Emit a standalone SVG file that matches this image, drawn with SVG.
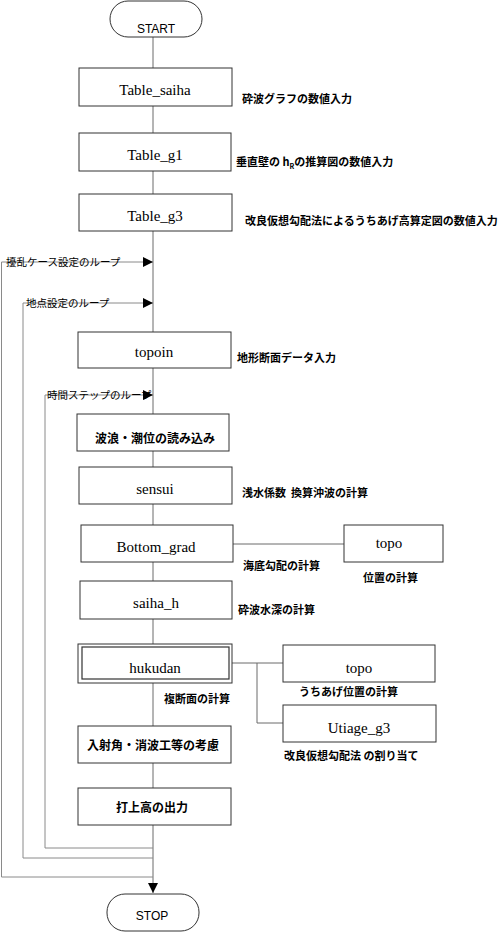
<svg xmlns="http://www.w3.org/2000/svg" width="500" height="932" viewBox="0 0 500 932">
<style>
.box{fill:#fff;stroke:#333;stroke-width:1}
.term{fill:#fff;stroke:#333;stroke-width:1}
.ser{font-family:"Liberation Serif","DejaVu Serif",serif;font-size:15px;fill:#000;text-anchor:middle}
.san{font-family:"Liberation Sans",Arial,sans-serif;font-size:12px;fill:#000;text-anchor:middle}
.lbl{font-family:"Noto Sans CJK JP","Noto Sans",sans-serif;font-size:11px;font-weight:bold;fill:#000}
.jb{font-family:"Noto Sans CJK JP","Noto Sans",sans-serif;font-size:12px;font-weight:bold;fill:#000;text-anchor:middle}
.lp{font-family:"Noto Sans CJK JP","Noto Sans",sans-serif;font-size:10.5px;fill:#000}
.cn{fill:none;stroke:#6a6a6a;stroke-width:1}
.lpl{fill:none;stroke:#8a8a8a;stroke-width:1}
</style>
<defs>
<marker id="ah" markerUnits="userSpaceOnUse" markerWidth="11" markerHeight="10" refX="10" refY="5" orient="auto">
<path d="M0,0 L10,5 L0,10 Z" fill="#000"/>
</marker>
</defs>
<g id="connectors">
<path class="cn" d="M153,37 V68 M153,106 V133 M153,171 V194 M153,231 V332 M153,368 V414 M153,451 V467 M153,504 V525 M153,562 V581 M153,619 V644 M153,683 V726 M153,763 V788"/>
<line class="cn" x1="153" y1="825" x2="153" y2="893" marker-end="url(#ah)"/>
<line class="cn" x1="233" y1="544" x2="344" y2="544"/>
<path class="cn" d="M232,663 H283 M257,663 V723 H283"/>
<path class="lpl" d="M153,877 H1.5 V262"/>
<line class="lpl" x1="1.5" y1="262" x2="153" y2="262" marker-end="url(#ah)"/>
<path class="lpl" d="M153,858 H23 V303"/>
<line class="lpl" x1="23" y1="303" x2="153" y2="303" marker-end="url(#ah)"/>
<path class="lpl" d="M153,848 H45 V395"/>
<line class="lpl" x1="45" y1="395" x2="153" y2="395" marker-end="url(#ah)"/>
</g>
<g id="loop-labels">
<text class="lp" x="6" y="266">擾乱ケース設定のループ</text>
<text class="lp" x="26" y="307">地点設定のループ</text>
<text class="lp" x="47" y="399">時間ステップのループ</text>
</g>
<g id="start">
<rect class="term" x="110" y="1" width="92" height="36" rx="18" ry="18"/>
<text class="san" x="156" y="33">START</text>
</g>
<g id="table_saiha">
<rect class="box" x="79" y="68" width="153" height="38"/>
<text class="ser" x="155" y="95">Table_saiha</text>
<text class="lbl" x="242" y="103">砕波グラフの数値入力</text>
</g>
<g id="table_g1">
<rect class="box" x="79" y="133" width="152" height="38"/>
<text class="ser" x="155" y="160">Table_g1</text>
<text class="lbl" x="236" y="166">垂直壁の h<tspan font-size="7" dy="3">R</tspan><tspan dy="-3">の推算図の数値入力</tspan></text>
</g>
<g id="table_g3">
<rect class="box" x="79" y="194" width="153" height="37"/>
<text class="ser" x="155" y="221">Table_g3</text>
<text class="lbl" x="245" y="225">改良仮想勾配法によるうちあげ高算定図の数値入力</text>
</g>
<g id="topoin">
<rect class="box" x="78" y="332" width="153" height="36"/>
<text class="ser" x="154" y="357">topoin</text>
<text class="lbl" x="237" y="362">地形断面データ入力</text>
</g>
<g id="read-wave">
<rect class="box" x="77" y="414" width="152" height="37"/>
<text class="jb" x="155" y="443">波浪・潮位の読み込み</text>
</g>
<g id="sensui">
<rect class="box" x="79" y="467" width="153" height="37"/>
<text class="ser" x="155" y="494">sensui</text>
<text class="lbl" x="242" y="497" xml:space="preserve" style="white-space:pre">浅水係数  換算沖波の計算</text>
</g>
<g id="bottom_grad">
<rect class="box" x="81" y="525" width="152" height="37"/>
<text class="ser" x="156" y="552">Bottom_grad</text>
<text class="lbl" x="243" y="570">海底勾配の計算</text>
</g>
<g id="topo1">
<rect class="box" x="344" y="525" width="99" height="37"/>
<text class="ser" x="389" y="548">topo</text>
<text class="lbl" x="363" y="582">位置の計算</text>
</g>
<g id="saiha_h">
<rect class="box" x="80" y="581" width="152" height="38"/>
<text class="ser" x="156" y="608">saiha_h</text>
<text class="lbl" x="238" y="614">砕波水深の計算</text>
</g>
<g id="hukudan">
<rect class="box" x="78" y="644" width="154" height="39" stroke-width="1.2"/>
<rect fill="none" stroke="#333" stroke-width="1.2" x="82" y="647" width="147" height="32"/>
<text class="ser" x="155" y="673">hukudan</text>
<text class="lbl" x="164" y="703">複断面の計算</text>
</g>
<g id="topo2">
<rect class="box" x="283" y="645" width="152" height="37"/>
<text class="ser" x="359" y="673">topo</text>
<text class="lbl" x="299" y="696">うちあげ位置の計算</text>
</g>
<g id="utiage_g3">
<rect class="box" x="283" y="705" width="153" height="37"/>
<text class="ser" x="359" y="733">Utiage_g3</text>
<text class="lbl" x="284" y="760">改良仮想勾配法 の割り当て</text>
</g>
<g id="incident">
<rect class="box" x="78" y="726" width="153" height="37"/>
<text class="jb" x="153" y="750">入射角・消波工等の考慮</text>
</g>
<g id="output">
<rect class="box" x="78" y="788" width="153" height="37"/>
<text class="jb" x="152" y="812" font-size="13">打上高の出力</text>
</g>
<g id="stop">
<rect class="term" x="107" y="894" width="92" height="37" rx="18" ry="18"/>
<text class="san" x="152" y="920">STOP</text>
</g>
</svg>
